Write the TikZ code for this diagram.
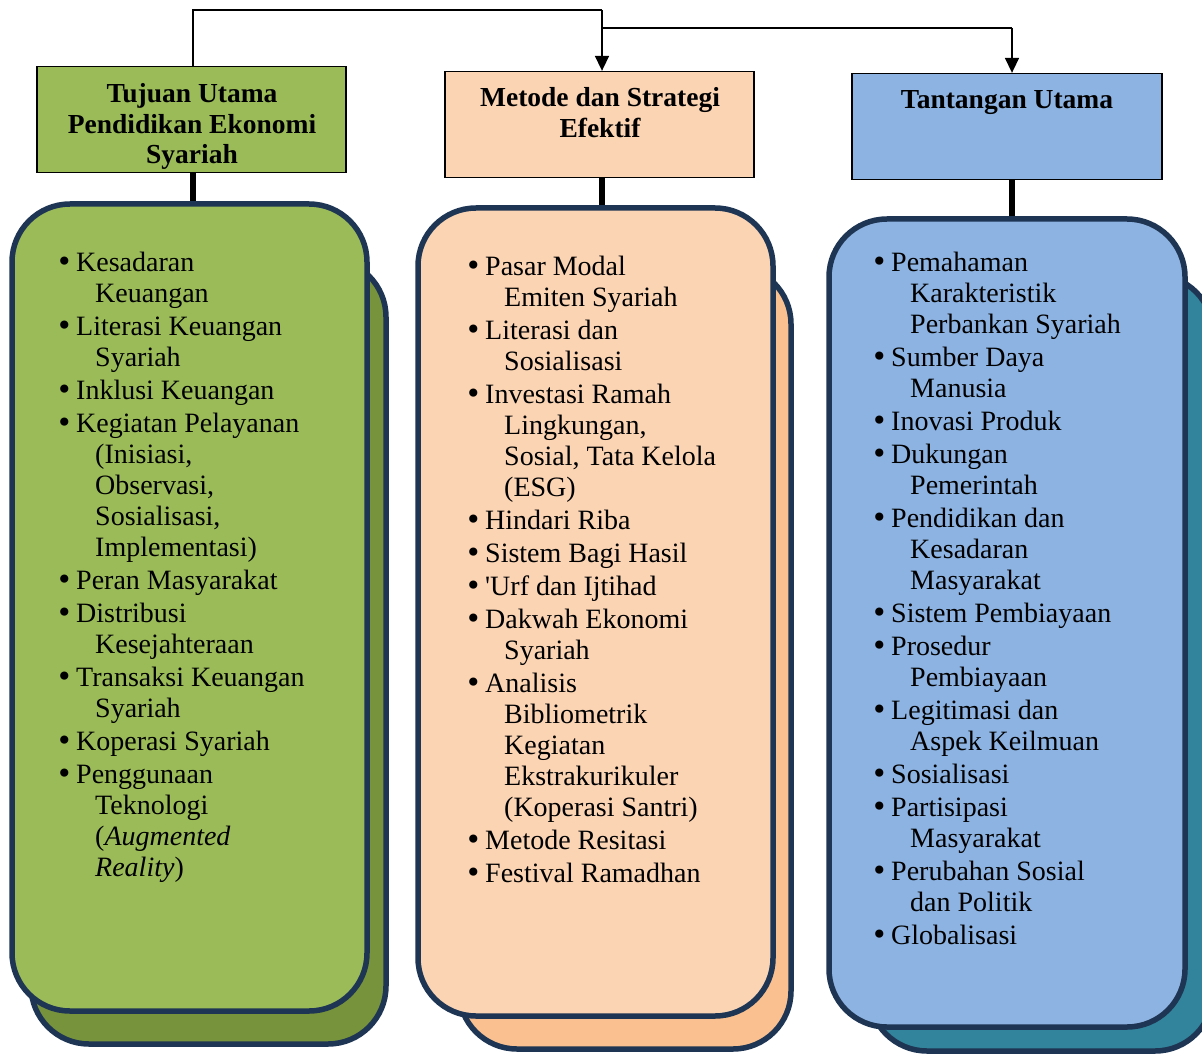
\documentclass[tikz,border=0pt]{standalone}
\usepackage{fontspec}
\setmainfont{Liberation Serif}
\newfontfamily\bulfont{DejaVu Sans}
\usetikzlibrary{arrows.meta}
\definecolor{gfront}{HTML}{9BBB59}
\definecolor{gback}{HTML}{77933C}
\definecolor{pfront}{HTML}{FBD4B4}
\definecolor{pback}{HTML}{FAC08F}
\definecolor{bfront}{HTML}{8DB3E2}
\definecolor{bback}{HTML}{31849B}
\definecolor{navy}{HTML}{1E3553}
\newcommand\mybul{{\bulfont\char"2022}}
\newcommand\bitem[1]{\makebox[18pt][l]{\hspace*{-2pt}\mybul}#1}
\newcommand\citem[1]{\hspace*{37pt}#1}
\newcommand\listfont{\fontsize{28}{31}\selectfont}
\newcommand\hdrfont{\fontsize{27.5}{30.5}\selectfont\bfseries}
\begin{document}
\begin{tikzpicture}[x=1pt,y=-1pt,
  hdrbox/.style={draw=black, line width=1.3pt, inner sep=0, minimum width=309pt, minimum height=106pt},
  cardbox/.style={draw=navy, line width=5.5pt, rounded corners=58pt, inner sep=0},
  hdrtext/.style={anchor=base, inner sep=0, font=\hdrfont},
  listtext/.style={anchor=base west, inner sep=0, font=\listfont},
  flow/.style={draw=black, line width=1.6pt},
  stem/.style={draw=black, line width=6pt},
  tip/.style={-{Triangle[width=14pt,length=15pt]}}]
\fill[white] (0,0) rectangle (1202,1056);
\path[use as bounding box] (0,0) rectangle (1202,1056);

% back cards
\node[cardbox, fill=gback, minimum width=355pt, minimum height=785pt] (b1) at (208.5,651.5) {};
\node[cardbox, fill=pback, minimum width=332pt, minimum height=783pt] (b2) at (625,657.5) {};
\node[cardbox, fill=bback, minimum width=344pt, minimum height=776pt] (b3) at (1041,663) {};

% front cards
\node[cardbox, fill=gfront, minimum width=355pt, minimum height=807pt] (f1) at (189.5,607.5) {};
\node[cardbox, fill=pfront, minimum width=355pt, minimum height=808pt] (f2) at (595.5,612) {};
\node[cardbox, fill=bfront, minimum width=356pt, minimum height=808pt] (f3) at (1007,623) {};

% header boxes
\node[hdrbox, fill=gfront] (h1) at (191.5,119.5) {};
\node[hdrbox, fill=pfront] (h2) at (599.5,124.5) {};
\node[hdrbox, fill=bfront, minimum width=310pt] (h3) at (1007,126.5) {};

% stem anchors
\coordinate (s1) at (193,173);
\coordinate (s2) at (602,178);
\coordinate (s3) at (1012,180);
\draw[stem] (s1) -- (s1 |- f1.north);
\draw[stem] (s2) -- (s2 |- f2.north);
\draw[stem] (s3) -- (s3 |- f3.north);

% top connectors
\coordinate (j0) at (193,10);
\coordinate (j1) at (602,10);
\coordinate (j2) at (602,28);
\coordinate (j3) at (1012,28);
\draw[flow] (j0 |- h1.north) -- (j0) -- (j1);
\draw[flow, tip] (j1) -- (j1 |- h2.north);
\draw[flow] (j2) -- (j3);
\draw[flow, tip] (j3) -- (j3 |- h3.north);

% header texts
\node[hdrtext] (l1) at (192,103) {\begin{tabular}[t]{@{}c@{}}Tujuan Utama\\Pendidikan Ekonomi\\Syariah\end{tabular}};
\node[hdrtext] (l2) at (600,107) {\begin{tabular}[t]{@{}c@{}}Metode dan Strategi\\Efektif\end{tabular}};
\node[hdrtext] (l3) at (1007,109) {Tantangan Utama};

% lists
\node[listtext] (t1) at (58,272) {\begin{tabular}[t]{@{}l@{}}
\bitem{Kesadaran}\\
\citem{Keuangan}\\[2pt]
\bitem{Literasi Keuangan}\\
\citem{Syariah}\\[2pt]
\bitem{Inklusi Keuangan}\\[2pt]
\bitem{Kegiatan Pelayanan}\\
\citem{(Inisiasi,}\\
\citem{Observasi,}\\
\citem{Sosialisasi,}\\
\citem{Implementasi)}\\[2pt]
\bitem{Peran Masyarakat}\\[2pt]
\bitem{Distribusi}\\
\citem{Kesejahteraan}\\[2pt]
\bitem{Transaksi Keuangan}\\
\citem{Syariah}\\[2pt]
\bitem{Koperasi Syariah}\\[2pt]
\bitem{Penggunaan}\\
\citem{Teknologi}\\
\citem{(\textit{Augmented}}\\
\citem{\textit{Reality})}
\end{tabular}};

\node[listtext] (t2) at (467,276) {\begin{tabular}[t]{@{}l@{}}
\bitem{Pasar Modal}\\
\citem{Emiten Syariah}\\[2pt]
\bitem{Literasi dan}\\
\citem{Sosialisasi}\\[2pt]
\bitem{Investasi Ramah}\\
\citem{Lingkungan,}\\
\citem{Sosial, Tata Kelola}\\
\citem{(ESG)}\\[2pt]
\bitem{Hindari Riba}\\[2pt]
\bitem{Sistem Bagi Hasil}\\[2pt]
\bitem{\textquotesingle Urf dan Ijtihad}\\[2pt]
\bitem{Dakwah Ekonomi}\\
\citem{Syariah}\\[2pt]
\bitem{Analisis}\\
\citem{Bibliometrik}\\
\citem{Kegiatan}\\
\citem{Ekstrakurikuler}\\
\citem{(Koperasi Santri)}\\[2pt]
\bitem{Metode Resitasi}\\[2pt]
\bitem{Festival Ramadhan}
\end{tabular}};

\node[listtext] (t3) at (873,272) {\begin{tabular}[t]{@{}l@{}}
\bitem{Pemahaman}\\
\citem{Karakteristik}\\
\citem{Perbankan Syariah}\\[2pt]
\bitem{Sumber Daya}\\
\citem{Manusia}\\[2pt]
\bitem{Inovasi Produk}\\[2pt]
\bitem{Dukungan}\\
\citem{Pemerintah}\\[2pt]
\bitem{Pendidikan dan}\\
\citem{Kesadaran}\\
\citem{Masyarakat}\\[2pt]
\bitem{Sistem Pembiayaan}\\[2pt]
\bitem{Prosedur}\\
\citem{Pembiayaan}\\[2pt]
\bitem{Legitimasi dan}\\
\citem{Aspek Keilmuan}\\[2pt]
\bitem{Sosialisasi}\\[2pt]
\bitem{Partisipasi}\\
\citem{Masyarakat}\\[2pt]
\bitem{Perubahan Sosial}\\
\citem{dan Politik}\\[2pt]
\bitem{Globalisasi}
\end{tabular}};
\end{tikzpicture}
\end{document}
